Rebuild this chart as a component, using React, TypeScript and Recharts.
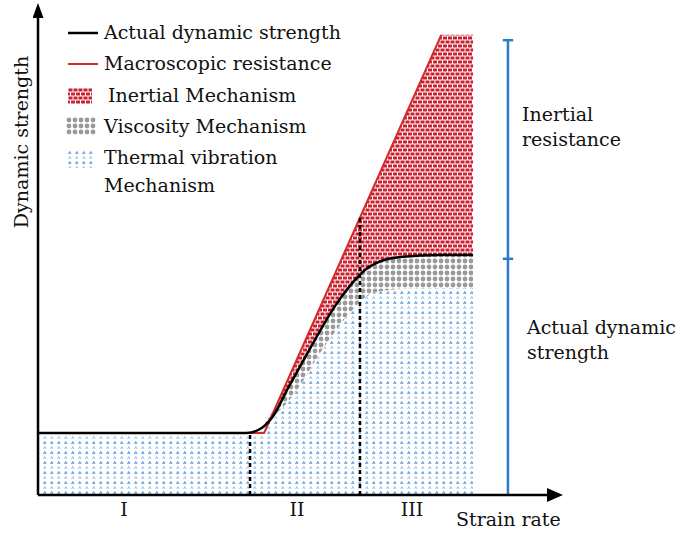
import React from 'react';
import { ComposedChart, Area, Line, XAxis, YAxis, ReferenceLine } from 'recharts';

// strain rate positions (arbitrary units, 0-100 along the axis)
const strainRate = [0, 40, 43, 45, 48, 51, 54, 57, 60, 63, 66, 70, 77, 77.4, 83.5];
const actualStrength = [12.7, 12.7, 13.8, 16.0, 21.9, 27.7, 33.4, 38.7, 43.0, 46.3, 48.0, 48.8, 49.2, 49.2, 49.2];
const viscosityLower = [null, null, null, 16.0, 19.1, 23.6, 28.9, 33.4, 37.5, 40.6, 41.8, 42.2, 42.4, 42.4, 42.4];
const inertialTop = [null, null, 13.8, 17.0, 23.7, 30.9, 38.1, 45.3, 52.5, 59.7, 66.9, 76.5, 93.3, 94.3, 94.3];

const macroX = [0, 43.4, 77.4];
const macroY = [12.7, 12.7, 94.3];

const regionTicks = [16.5, 49.7, 71.8];
const regionLabels = ['I', 'II', 'III'];

const bracketX = 90.2;
const bracketLevels = [0, 48.4, 93.2];
const dividers = [
    { x: 40.7, top: 12.7 },
    { x: 61.8, top: 56.9 },
];

const rows = strainRate.map((x, i) => {
    const low = viscosityLower[i];
    const top = inertialTop[i];
    return {
        x,
        actual: actualStrength[i],
        thermal: [0, low ?? actualStrength[i]],
        viscosity: low == null ? null : [low, actualStrength[i]],
        inertial: top == null ? null : [actualStrength[i], top],
    };
});

const macroRows = macroX.map((x, i) => ({ x, macro: macroY[i] }));

const FONT = "'DejaVu Serif', 'Liberation Serif', serif";
const BLUE = '#2a7cc6';
const RED = '#c8202f';

const textStyle: React.CSSProperties = {
    position: 'absolute',
    fontFamily: FONT,
    fontSize: 19,
    lineHeight: '24px',
    color: '#111',
    whiteSpace: 'nowrap',
};

const Swatch = ({ fill, left, top, w, h }: { fill: string; left: number; top: number; w: number; h: number }) => (
    <svg style={{ position: 'absolute', left, top }} width={w} height={h}>
        <rect width={w} height={h} fill={fill} />
    </svg>
);

export default function App() {
    return (
        <div style={{ position: 'absolute', left: 0, top: 0, width: 678, height: 533, background: '#fff' }}>
            <ComposedChart
                width={678}
                height={533}
                data={rows}
                margin={{ top: 7, right: 119, bottom: 0, left: 0 }}
            >
                <defs>
                    <pattern id="inertialPat" patternUnits="userSpaceOnUse" width="10" height="8">
                        <rect x="0.5" y="0.5" width="4" height="3" fill={RED} />
                        <rect x="5.5" y="0.5" width="4" height="3" fill={RED} />
                        <rect x="3" y="4.5" width="4" height="3" fill={RED} />
                        <rect x="8" y="4.5" width="2" height="3" fill={RED} />
                        <rect x="0" y="4.5" width="2" height="3" fill={RED} />
                    </pattern>
                    <pattern id="viscosityPat" patternUnits="userSpaceOnUse" width="6" height="6">
                        <circle cx="3" cy="3" r="2.4" fill="#9a9a9a" />
                    </pattern>
                    <pattern id="thermalPat" patternUnits="userSpaceOnUse" width="7" height="10">
                        <path d="M1.5,4 L2.8,1.5 L4,4" stroke="#3f8ad6" strokeWidth="0.9" fill="none" />
                        <circle cx="2.8" cy="3.6" r="0.6" fill="#6aa6e0" />
                        <path d="M1.5,9 L2.8,6.5 L4,9" stroke="#7ab0e4" strokeWidth="0.8" fill="none" />
                    </pattern>
                    <marker id="arrowX" markerUnits="userSpaceOnUse" markerWidth="16" markerHeight="14"
                        viewBox="0 0 16 14" refX="12" refY="7" orient="auto">
                        <path d="M0,0 L16,7 L0,14 z" fill="#000" />
                    </marker>
                    <marker id="arrowY" markerUnits="userSpaceOnUse" markerWidth="15" markerHeight="11"
                        viewBox="0 0 15 11" refX="11" refY="5.5" orient="auto-start-reverse">
                        <path d="M0,0 L15,5.5 L0,11 z" fill="#000" />
                    </marker>
                </defs>
                <XAxis
                    type="number"
                    dataKey="x"
                    domain={[0, 100]}
                    ticks={regionTicks}
                    interval={0}
                    tickFormatter={(v: number) => regionLabels[regionTicks.indexOf(v)] ?? ''}
                    tickLine={false}
                    tick={{ fill: '#111', fontSize: 19, fontFamily: FONT }}
                    height={38}
                    axisLine={{ stroke: '#000', strokeWidth: 2.5, markerEnd: 'url(#arrowX)' }}
                />
                <YAxis
                    type="number"
                    domain={[0, 100]}
                    tick={false}
                    tickLine={false}
                    width={38}
                    axisLine={{ stroke: '#000', strokeWidth: 2.5, markerStart: 'url(#arrowY)' }}
                />
                <Area
                    dataKey="thermal"
                    type="monotone"
                    stroke="none"
                    fill="url(#thermalPat)"
                    fillOpacity={1}
                    isAnimationActive={false}
                />
                <Area
                    dataKey="viscosity"
                    type="monotone"
                    stroke="none"
                    fill="url(#viscosityPat)"
                    fillOpacity={1}
                    isAnimationActive={false}
                />
                <Area
                    dataKey="inertial"
                    type="monotone"
                    stroke="none"
                    fill="url(#inertialPat)"
                    fillOpacity={1}
                    isAnimationActive={false}
                />
                <Line
                    data={macroRows}
                    dataKey="macro"
                    type="linear"
                    stroke="#d42a2a"
                    strokeWidth={2}
                    dot={false}
                    isAnimationActive={false}
                />
                <Line
                    dataKey="actual"
                    type="monotone"
                    stroke="#000"
                    strokeWidth={2.5}
                    dot={false}
                    isAnimationActive={false}
                />
                {dividers.map((d) => (
                    <ReferenceLine
                        key={d.x}
                        segment={[{ x: d.x, y: 0 }, { x: d.x, y: d.top }]}
                        stroke="#000"
                        strokeWidth={2.5}
                        strokeDasharray="4 3"
                    />
                ))}
                <ReferenceLine
                    segment={[{ x: bracketX, y: bracketLevels[0] }, { x: bracketX, y: bracketLevels[2] }]}
                    stroke={BLUE}
                    strokeWidth={2.5}
                />
                {bracketLevels.slice(1).map((lv) => (
                    <ReferenceLine
                        key={lv}
                        segment={[{ x: bracketX - 1, y: lv }, { x: bracketX + 1, y: lv }]}
                        stroke={BLUE}
                        strokeWidth={2.5}
                    />
                ))}
            </ComposedChart>

            {/* legend */}
            <svg style={{ position: 'absolute', left: 68, top: 26 }} width={32} height={45}>
                <line x1={0} y1={7} x2={30} y2={7} stroke="#000" strokeWidth={2.5} />
                <line x1={0} y1={38} x2={30} y2={38} stroke="#d42a2a" strokeWidth={2} />
            </svg>
            <Swatch fill="url(#inertialPat)" left={68} top={88} w={24} h={16} />
            <Swatch fill="url(#viscosityPat)" left={66} top={117} w={30} h={18} />
            <Swatch fill="url(#thermalPat)" left={67} top={150} w={26} h={18} />
            <div style={{ ...textStyle, left: 104, top: 20 }}>Actual dynamic strength</div>
            <div style={{ ...textStyle, left: 104, top: 51 }}>Macroscopic resistance</div>
            <div style={{ ...textStyle, left: 108, top: 83 }}>Inertial Mechanism</div>
            <div style={{ ...textStyle, left: 104, top: 114 }}>Viscosity Mechanism</div>
            <div style={{ ...textStyle, left: 104, top: 145 }}>Thermal vibration</div>
            <div style={{ ...textStyle, left: 104, top: 173 }}>Mechanism</div>

            {/* annotations */}
            <div style={{ ...textStyle, left: 522, top: 102 }}>Inertial</div>
            <div style={{ ...textStyle, left: 522, top: 127 }}>resistance</div>
            <div style={{ ...textStyle, left: 527, top: 315 }}>Actual dynamic</div>
            <div style={{ ...textStyle, left: 527, top: 340 }}>strength</div>
            <div style={{ ...textStyle, left: 456, top: 507 }}>Strain rate</div>
            <div
                style={{
                    ...textStyle,
                    left: 21,
                    top: 142,
                    transform: 'translate(-50%, -50%) rotate(-90deg)',
                }}
            >
                Dynamic strength
            </div>
        </div>
    );
}
